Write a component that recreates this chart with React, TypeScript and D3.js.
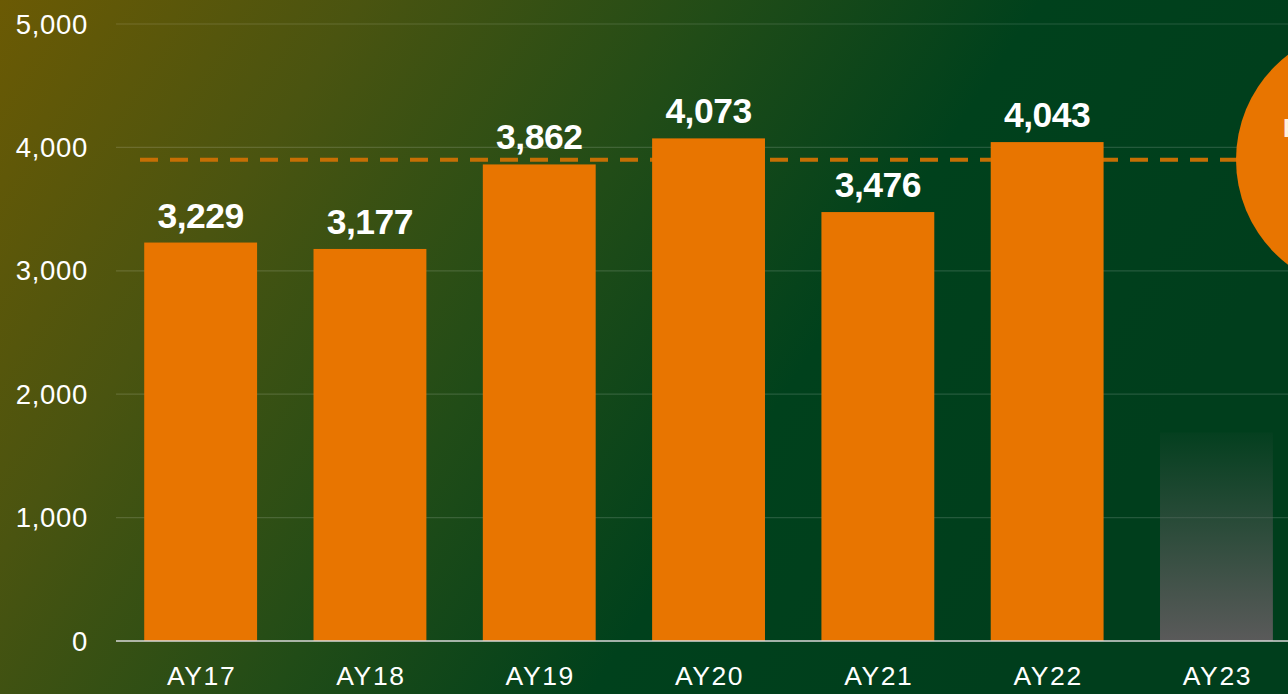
import React from "react";
import * as d3 from "d3";

const categories = ["AY17", "AY18", "AY19", "AY20", "AY21", "AY22", "AY23"];
const values = [3229, 3177, 3862, 4073, 3476, 4043, null];
const projectedValue = 1690;
const referenceValue = 3900;
const yTicks = [0, 1000, 2000, 3000, 4000, 5000];
const circleText = "Projected";

const W = 1288;
const H = 694;

export default function App() {
  const y = d3.scaleLinear().domain([0, 5000]).range([641, 24]);
  const step = 169.3;
  const x = d3
    .scaleBand<string>()
    .domain(categories)
    .range([116, 116 + step * categories.length])
    .paddingInner(1 / 3)
    .paddingOuter(1 / 6);
  const fmt = d3.format(",");
  const bw = x.bandwidth();

  return (
    <svg
      width={W}
      height={H}
      style={{ position: "absolute", left: 0, top: 0, display: "block" }}
      fontFamily="'Liberation Sans', Arial, sans-serif"
    >
      <defs>
        <linearGradient id="bg" x1="0" y1="0" x2="1" y2="0.35">
          <stop offset="0" stopColor="#6b5a04" />
          <stop offset="0.25" stopColor="#4a5410" />
          <stop offset="0.5" stopColor="#214c17" />
          <stop offset="0.72" stopColor="#00411c" />
          <stop offset="1" stopColor="#003e1c" />
        </linearGradient>
        <linearGradient id="proj" x1="0" y1="0" x2="0" y2="1">
          <stop offset="0" stopColor="#5a5a5a" stopOpacity="0.05" />
          <stop offset="1" stopColor="#5a5a5a" stopOpacity="1" />
        </linearGradient>
      </defs>
      <rect x={0} y={0} width={W} height={H} fill="url(#bg)" />

      {yTicks
        .filter((t) => t > 0)
        .map((t) => (
          <line
            key={t}
            x1={116}
            x2={W}
            y1={y(t)}
            y2={y(t)}
            stroke="rgba(255,255,255,0.14)"
            strokeWidth={1.2}
          />
        ))}

      <line
        x1={140}
        x2={W}
        y1={y(referenceValue)}
        y2={y(referenceValue)}
        stroke="#c66f04"
        strokeWidth={4}
        strokeDasharray="18 12"
      />

      {categories.map((c, i) => {
        const v = values[i];
        if (v == null) {
          return (
            <rect
              key={c}
              x={x(c)}
              y={y(projectedValue)}
              width={bw}
              height={y(0) - y(projectedValue)}
              fill="url(#proj)"
            />
          );
        }
        return (
          <g key={c}>
            <rect
              x={x(c)}
              y={y(v)}
              width={bw}
              height={y(0) - y(v)}
              fill="#e87500"
            />
            <text
              x={(x(c) as number) + bw / 2}
              y={y(v) - 15}
              textAnchor="middle"
              fill="#ffffff"
              fontWeight="bold"
              fontSize={35.5}
              letterSpacing={-0.5}
            >
              {fmt(v)}
            </text>
          </g>
        );
      })}

      <line x1={116} x2={W} y1={y(0)} y2={y(0)} stroke="#d9d9d9" strokeWidth={1.6} />

      {yTicks.map((t) => (
        <text
          key={t}
          x={88}
          y={y(t) + 9.5}
          textAnchor="end"
          fill="#ffffff"
          fontSize={27.5}
          letterSpacing={0.7}
        >
          {fmt(t)}
        </text>
      ))}

      {categories.map((c) => (
        <text
          key={c}
          x={(x(c) as number) + bw / 2 + 1}
          y={685}
          textAnchor="middle"
          fill="#ffffff"
          fontSize={26.5}
          letterSpacing={1.6}
        >
          {c}
        </text>
      ))}

      <circle cx={1368} cy={y(referenceValue)} r={132} fill="#e87500" />
      <text x={1283} y={137} fill="#fff1de" fontWeight="bold" fontSize={25}>
        {circleText}
      </text>
    </svg>
  );
}
